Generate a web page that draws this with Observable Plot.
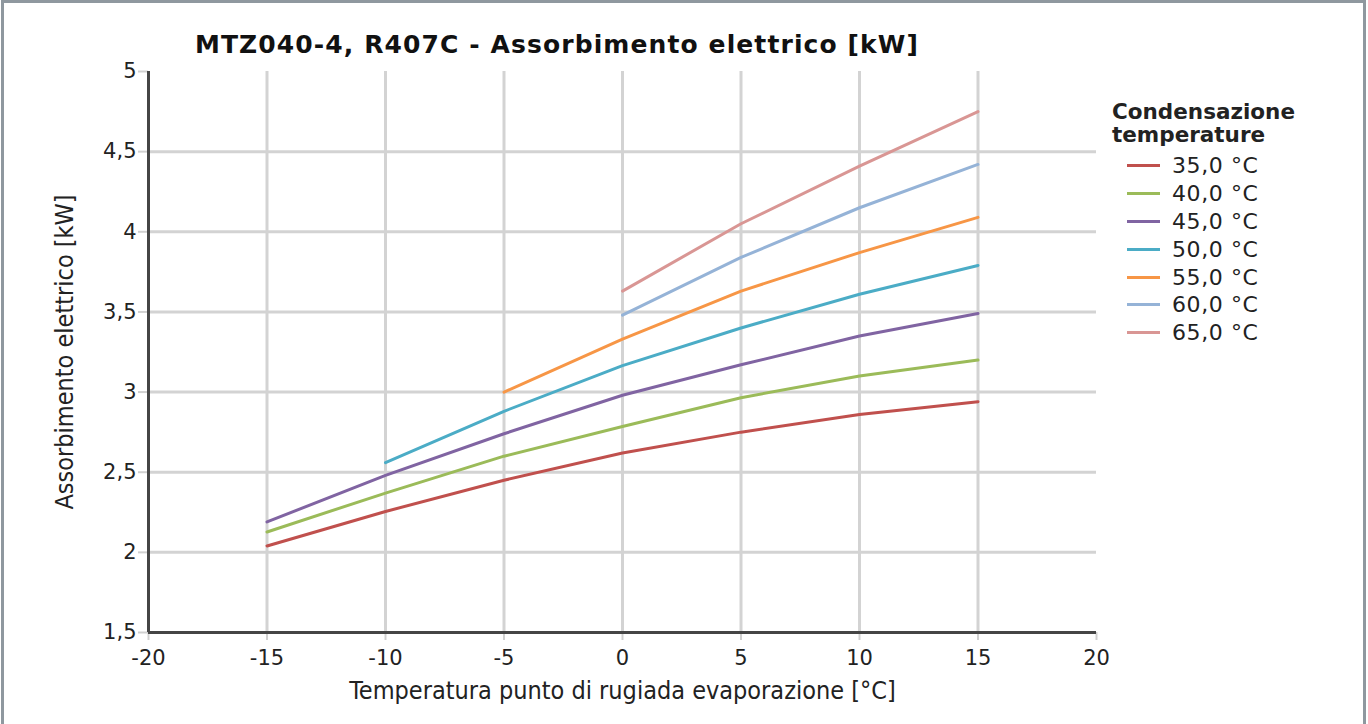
<!DOCTYPE html>
<html>
<head>
<meta charset="utf-8">
<script src="https://cdn.jsdelivr.net/npm/d3@7"></script>
<script src="https://cdn.jsdelivr.net/npm/@observablehq/plot@0.6"></script>
<style>
  html, body { margin: 0; padding: 0; background: #fff; }
  #wrap { position: relative; width: 1368px; height: 724px; overflow: hidden; }
  #border { position: absolute; left: 1px; top: 0; width: 1365px; height: 730px; border: 3px solid #8f989f; box-sizing: border-box; }
  #title { position: absolute; left: 0; width: 1114px; top: 30px; text-align: center; font-family: "DejaVu Sans", Verdana, sans-serif; font-weight: bold; font-size: 25px; letter-spacing: 1.1px; color: #111; }
  #legend { position: absolute; left: 1112px; top: 100px; }
  #legend .lt { font-family: "DejaVu Sans", Verdana, sans-serif; font-weight: bold; font-size: 21.5px; line-height: 23px; color: #222; }
  #legend .item { display: flex; align-items: center; height: 27.8px; font-family: "DejaVu Sans", Verdana, sans-serif; font-size: 22px; letter-spacing: 0.6px; color: #222; }
  #legend .sw { width: 33px; height: 3px; margin-left: 15px; margin-right: 12px; }
  #chart { position: absolute; left: 0; top: 0; }
</style>
</head>
<body>
<div id="wrap">
  <div id="chart"></div>
  <div id="title"></div>
  <div id="legend"></div>
  <div id="border"></div>
</div>
<script>
const titleText = "MTZ040-4, R407C - Assorbimento elettrico [kW]";
const xLabel = "Temperatura punto di rugiada evaporazione [°C]";
const yLabel = "Assorbimento elettrico [kW]";
const legendTitle = ["Condensazione", "temperature"];

const evapTemps = [-15, -10, -5, 0, 5, 10, 15];
const condTemps = [35, 40, 45, 50, 55, 60, 65];
const seriesColors = ["#c0504d", "#9bbb59", "#8064a2", "#4bacc6", "#f79646", "#95b3d7", "#d99694"];

const s35 = [2.04, 2.255, 2.45, 2.62, 2.75, 2.86, 2.94];
const s40 = [2.127, 2.37, 2.60, 2.785, 2.965, 3.10, 3.20];
const s45 = [2.19, 2.48, 2.74, 2.98, 3.17, 3.35, 3.49];
const s50 = [null, 2.56, 2.88, 3.165, 3.40, 3.61, 3.79];
const s55 = [null, null, 3.00, 3.33, 3.63, 3.87, 4.09];
const s60 = [null, null, null, 3.48, 3.84, 4.15, 4.42];
const s65 = [null, null, null, 3.63, 4.05, 4.41, 4.75];
const allSeries = [s35, s40, s45, s50, s55, s60, s65];

const xTicks = [-20, -15, -10, -5, 0, 5, 10, 15, 20];
const yTicks = [1.5, 2, 2.5, 3, 3.5, 4, 4.5, 5];
const xGrid = [-15, -10, -5, 0, 5, 10, 15];
const yGrid = [2, 2.5, 3, 3.5, 4, 4.5];

const fmt = d => String(d).replace(".", ",");
const labelOf = c => c.toFixed(1).replace(".", ",") + " °C";

const rows = [];
allSeries.forEach((vals, i) => {
  vals.forEach((v, j) => {
    if (v != null) rows.push({ x: evapTemps[j], y: v, s: labelOf(condTemps[i]) });
  });
});

const labelFont = "DejaVu Sans Condensed, Liberation Sans Narrow, Liberation Sans, sans-serif";

const chart = Plot.plot({
  width: 1368,
  height: 724,
  marginLeft: 148,
  marginRight: 272,
  marginTop: 71,
  marginBottom: 92,
  style: { fontFamily: "DejaVu Sans, Verdana, sans-serif", fontSize: "21px", color: "#222", background: "transparent" },
  x: { domain: [-20, 20] },
  y: { domain: [1.5, 5] },
  color: { domain: condTemps.map(labelOf), range: seriesColors },
  marks: [
    Plot.gridX(xGrid, { stroke: "#d3d3d3", strokeOpacity: 1, strokeWidth: 3 }),
    Plot.gridY(yGrid, { stroke: "#d3d3d3", strokeOpacity: 1, strokeWidth: 3 }),
    Plot.axisX({ ticks: xTicks, tickSize: 8, tickPadding: 10, stroke: "#d0d0d0", strokeWidth: 2, tickFormat: fmt, label: null, fontSize: 21 }),
    Plot.axisY({ ticks: yTicks, tickSize: 10, tickPadding: 2, stroke: "#d0d0d0", strokeWidth: 2, tickFormat: fmt, label: null, fontSize: 21 }),
    Plot.ruleX([-20], { stroke: "#454545", strokeWidth: 3 }),
    Plot.ruleY([1.5], { stroke: "#454545", strokeWidth: 3 }),
    Plot.line(rows, { x: "x", y: "y", z: "s", stroke: "s", strokeWidth: 3 }),
    Plot.text([xLabel], { frameAnchor: "bottom", lineAnchor: "middle", textAnchor: "middle", dy: 58, fontSize: 25, fontFamily: labelFont, fill: "#222" }),
    Plot.text([yLabel], { frameAnchor: "left", lineAnchor: "middle", textAnchor: "middle", dx: -84, rotate: -90, fontSize: 25, fontFamily: labelFont, fill: "#222" })
  ]
});
document.getElementById("chart").appendChild(chart);

document.getElementById("title").textContent = titleText;
const lg = document.getElementById("legend");
legendTitle.forEach(t => { const d = document.createElement("div"); d.className = "lt"; d.textContent = t; lg.appendChild(d); });
const spacer = document.createElement("div"); spacer.style.height = "6px"; lg.appendChild(spacer);
condTemps.forEach((c, i) => {
  const it = document.createElement("div"); it.className = "item";
  const sw = document.createElement("div"); sw.className = "sw"; sw.style.background = seriesColors[i];
  const tx = document.createElement("span"); tx.textContent = labelOf(c);
  it.appendChild(sw); it.appendChild(tx); lg.appendChild(it);
});
</script>
</body>
</html>
